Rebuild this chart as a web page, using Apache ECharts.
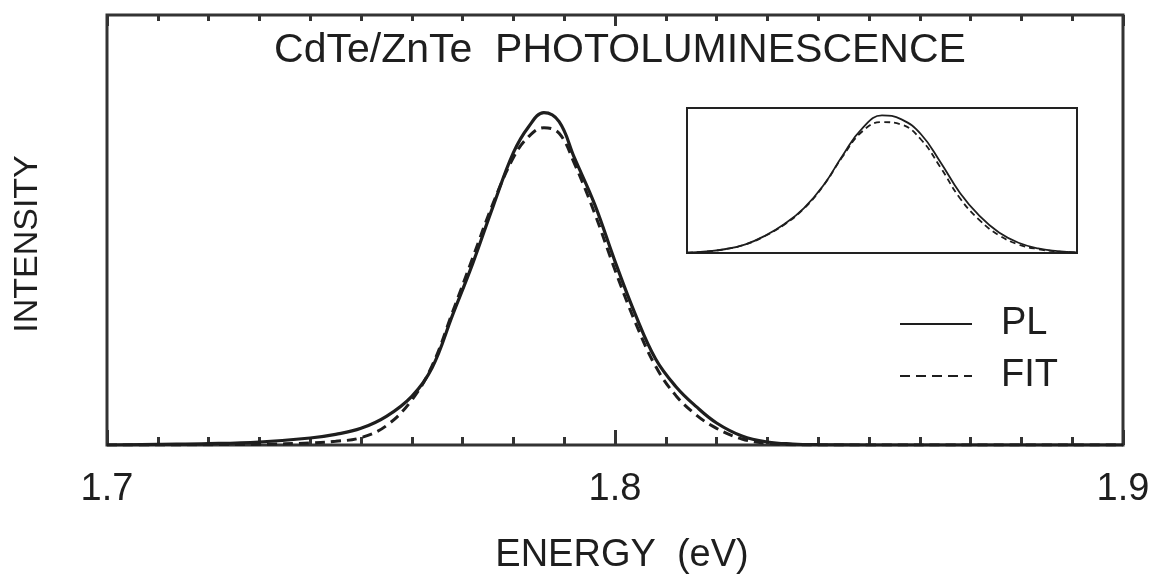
<!DOCTYPE html>
<html>
<head>
<meta charset="utf-8">
<title>CdTe/ZnTe photoluminescence</title>
<script src="https://cdn.jsdelivr.net/npm/echarts@6/dist/echarts.min.js"></script>
<style>
  html, body { margin: 0; padding: 0; background: #fff; }
  #chart { width: 1159px; height: 580px; }
</style>
</head>
<body>
<div id="chart"></div>
<script>
// Photon energy (eV) of the sampled points
const energy = [1.700, 1.710, 1.720, 1.730, 1.740, 1.745, 1.750, 1.755, 1.760, 1.764,
                1.768, 1.772, 1.776, 1.780, 1.783, 1.786, 1.789, 1.792, 1.796, 1.800,
                1.804, 1.808, 1.812, 1.816, 1.820, 1.825, 1.830, 1.835, 1.840, 1.850,
                1.870, 1.900];
// Measured PL intensity (normalised to the peak)
const pl = [0.000, 0.002, 0.004, 0.009, 0.021, 0.032, 0.050, 0.086, 0.146, 0.232,
            0.389, 0.545, 0.716, 0.877, 0.955, 0.997, 0.970, 0.862, 0.722, 0.551,
            0.392, 0.258, 0.175, 0.115, 0.066, 0.027, 0.009, 0.003, 0.001, 0.000,
            0.000, 0.000];
// Fitted line shape
const fit = [0.000, 0.000, 0.001, 0.002, 0.006, 0.011, 0.022, 0.058, 0.135, 0.238,
             0.398, 0.562, 0.725, 0.862, 0.925, 0.952, 0.935, 0.845, 0.695, 0.525,
             0.368, 0.236, 0.148, 0.090, 0.050, 0.018, 0.005, 0.001, 0.000, 0.000,
             0.000, 0.000];

// Inset: relative position across the inset window
const insetPos = [0.00, 0.05, 0.10, 0.15, 0.20, 0.25, 0.30, 0.35, 0.40, 0.45, 0.50,
                  0.55, 0.60, 0.65, 0.70, 0.75, 0.80, 0.85, 0.90, 0.95, 1.00];
const insetPL = [0.002, 0.011, 0.029, 0.063, 0.125, 0.210, 0.325, 0.490, 0.710, 0.905, 0.996,
                 0.968, 0.860, 0.658, 0.435, 0.268, 0.148, 0.074, 0.033, 0.014, 0.004];
const insetFit = [0.002, 0.011, 0.029, 0.062, 0.123, 0.207, 0.322, 0.488, 0.702, 0.882, 0.948,
                  0.930, 0.822, 0.620, 0.396, 0.238, 0.128, 0.062, 0.028, 0.011, 0.003];

const xTickLabels = ['1.7', '1.8', '1.9'];

const FONT = 'Liberation Sans';
const INK = '#1e1e1e';

const pairs = (xs, ys) => xs.map((x, i) => [x, ys[i]]);

const chart = echarts.init(document.getElementById('chart'), null, { renderer: 'canvas' });

const tickAxis = (pos, major, minor, showLabels) => ({
  type: 'value',
  gridIndex: 0,
  position: pos,
  min: 1.7,
  max: 1.9,
  interval: 0.1,
  axisLine: { show: false },
  axisTick: { show: true, inside: true, length: major, lineStyle: { color: '#333', width: 3 } },
  minorTick: { show: true, splitNumber: 10, length: minor, lineStyle: { color: '#333', width: 3 } },
  splitLine: { show: false },
  minorSplitLine: { show: false },
  axisLabel: {
    show: showLabels,
    margin: 26,
    fontFamily: FONT,
    fontSize: 38,
    color: INK,
    formatter: (v) => xTickLabels[Math.round((v - 1.7) * 10)]
  }
});

const bottomAxis = Object.assign(tickAxis('bottom', 15, 8, true), {
  name: 'ENERGY  (eV)',
  nameLocation: 'middle',
  nameGap: 92,
  nameTextStyle: { fontFamily: FONT, fontSize: 38, color: INK, padding: [0, 0, 0, 14] }
});

chart.setOption({
  animation: false,
  backgroundColor: '#fff',
  title: {
    text: 'CdTe/ZnTe  PHOTOLUMINESCENCE',
    left: 615,
    top: 25,
    textAlign: 'center',
    textStyle: { fontFamily: FONT, fontSize: 41, fontWeight: 'normal', color: INK }
  },
  legend: {
    data: ['PL', 'FIT'],
    orient: 'vertical',
    left: 894,
    top: 300,
    itemWidth: 72,
    itemHeight: 14,
    itemGap: 14,
    itemStyle: { opacity: 0 },
    textStyle: { fontFamily: FONT, fontSize: 38, color: INK, padding: [0, 0, 0, 24] }
  },
  grid: [
    { left: 107, top: 15, width: 1016, height: 431, show: true,
      borderColor: '#333', borderWidth: 3, backgroundColor: 'transparent' },
    { left: 687, top: 108, width: 390, height: 145, show: true,
      borderColor: '#222', borderWidth: 2, backgroundColor: '#fff' }
  ],
  xAxis: [
    bottomAxis,
    tickAxis('top', 11, 6, false),
    { type: 'value', gridIndex: 1, min: 0, max: 1, show: false }
  ],
  yAxis: [
    { type: 'value', gridIndex: 0, min: 0, max: 1.29,
      axisLine: { show: false }, axisTick: { show: false }, axisLabel: { show: false },
      splitLine: { show: false },
      name: 'INTENSITY', nameLocation: 'middle', nameRotate: 90, nameGap: 62,
      nameTextStyle: { fontFamily: FONT, fontSize: 34, color: INK, padding: [0, 28, 0, 0] } },
    { type: 'value', gridIndex: 1, min: 0, max: 1.05, show: false }
  ],
  series: [
    { name: 'PL', type: 'line', xAxisIndex: 0, yAxisIndex: 0, data: pairs(energy, pl),
      symbol: 'none', smooth: 0.4, lineStyle: { color: INK, width: 3.2 }, z: 3 },
    { name: 'FIT', type: 'line', xAxisIndex: 0, yAxisIndex: 0, data: pairs(energy, fit),
      symbol: 'none', smooth: 0.4, lineStyle: { color: INK, width: 3, type: [10, 6] }, z: 3 },
    { name: 'PL inset', type: 'line', xAxisIndex: 2, yAxisIndex: 1, data: pairs(insetPos, insetPL),
      symbol: 'none', smooth: 0.45, lineStyle: { color: INK, width: 1.8 }, z: 4 },
    { name: 'FIT inset', type: 'line', xAxisIndex: 2, yAxisIndex: 1, data: pairs(insetPos, insetFit),
      symbol: 'none', smooth: 0.45, lineStyle: { color: INK, width: 1.8, type: [6, 4] }, z: 4 }
  ]
});
</script>
</body>
</html>
